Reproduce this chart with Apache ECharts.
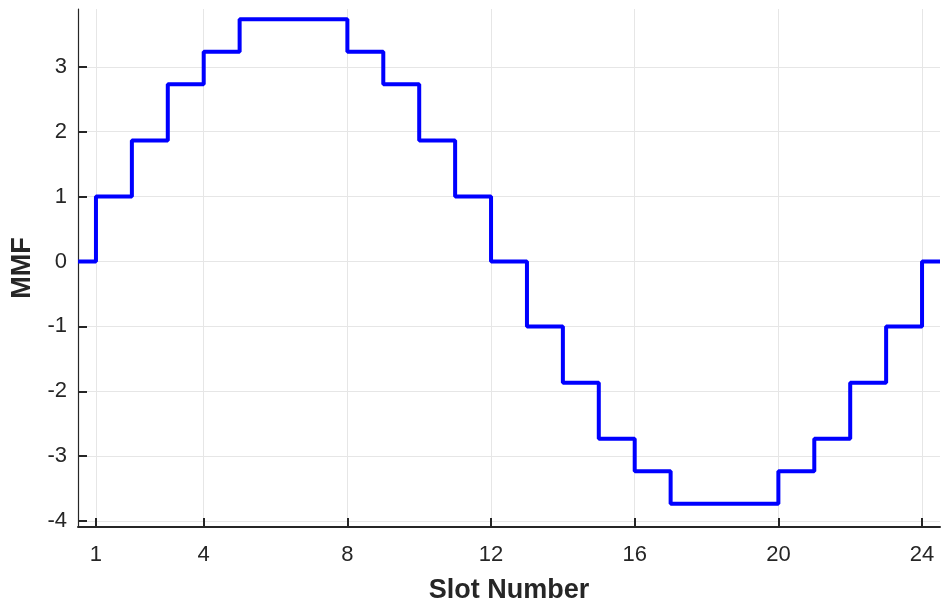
<!DOCTYPE html>
<html>
<head>
<meta charset="utf-8">
<script src="https://cdn.jsdelivr.net/npm/echarts@6/dist/echarts.min.js"></script>
<style>
  html, body { margin: 0; padding: 0; background: #fff; }
  #chart { width: 942px; height: 606px; }
</style>
</head>
<body>
<div id="chart"></div>
<script>
// Slot positions where the MMF staircase changes level (plus the plot ends)
const slotEdges = [0.5, 1, 2, 3, 4, 5, 6, 7, 8, 9, 10, 11, 12, 13, 14, 15, 16, 17, 18, 19, 20, 21, 22, 23, 24, 24.5];
// MMF level held from each edge to the next
const mmfLevels = [0, 1, 1.866, 2.732, 3.232, 3.732, 3.732, 3.732, 3.232, 2.732, 1.866, 1, 0,
  -1, -1.866, -2.732, -3.232, -3.732, -3.732, -3.732, -3.232, -2.732, -1.866, -1, 0, 0];
// Tick positions
const xTicks = [1, 4, 8, 12, 16, 20, 24];
const yTicks = [-4, -3, -2, -1, 0, 1, 2, 3];

const axisColor = '#262626';
const gridColor = '#e6e6e6';
const font = '"Liberation Sans", Arial, Helvetica, sans-serif';

const chart = echarts.init(document.getElementById('chart'), null, { renderer: 'canvas' });
chart.setOption({
  animation: false,
  backgroundColor: '#ffffff',
  grid: { left: 78, right: 2, top: 9, bottom: 79, containLabel: false, outerBoundsMode: 'none' },
  xAxis: {
    type: 'value',
    min: 0.5,
    max: 24.5,
    name: 'Slot Number',
    nameLocation: 'middle',
    nameGap: 50,
    nameTextStyle: { color: axisColor, fontSize: 27, fontWeight: 'bold', fontFamily: font },
    axisLine: { show: true, onZero: false, lineStyle: { color: axisColor, width: 2 } },
    axisTick: { show: true, inside: true, length: 9, customValues: xTicks, lineStyle: { color: axisColor, width: 2 } },
    axisLabel: { customValues: xTicks, color: axisColor, fontSize: 22, fontFamily: font, margin: 17 },
    splitLine: { show: true, customValues: xTicks, lineStyle: { color: gridColor, width: 1 } }
  },
  yAxis: {
    type: 'value',
    min: -4.09,
    max: 3.89,
    name: 'MMF',
    nameLocation: 'middle',
    nameGap: 34,
    nameRotate: 90,
    nameTextStyle: { color: axisColor, fontSize: 27, fontWeight: 'bold', fontFamily: font },
    axisLine: { show: true, onZero: false, lineStyle: { color: axisColor, width: 1.2 } },
    axisTick: { show: true, inside: true, length: 9, customValues: yTicks, lineStyle: { color: axisColor, width: 2 } },
    axisLabel: { customValues: yTicks, color: axisColor, fontSize: 22, fontFamily: font, margin: 11 },
    splitLine: { show: true, customValues: yTicks, lineStyle: { color: gridColor, width: 1 } }
  },
  series: [{
    type: 'line',
    step: 'end',
    data: slotEdges.map((x, i) => [x, mmfLevels[i]]),
    showSymbol: false,
    lineStyle: { color: '#0000ff', width: 4 },
    clip: true
  }]
});
</script>
</body>
</html>
